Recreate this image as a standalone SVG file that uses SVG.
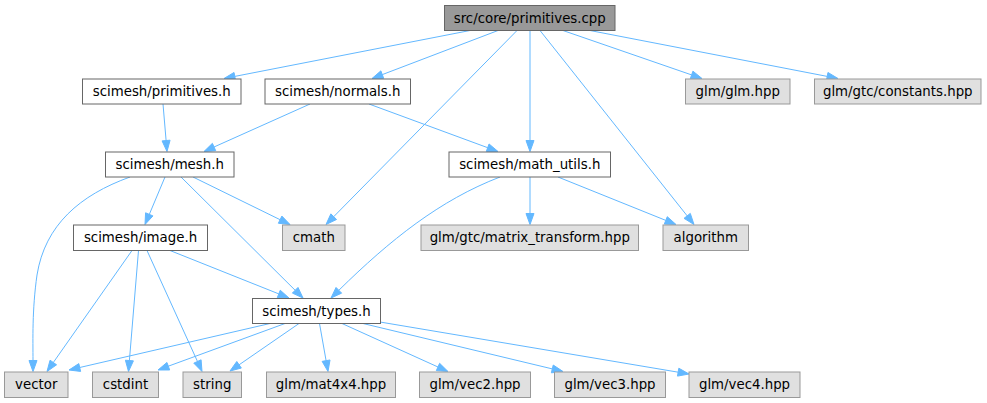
<svg xmlns="http://www.w3.org/2000/svg" width="987" height="403" viewBox="0 0 987 403">
<style>
text{font-family:"DejaVu Sans",sans-serif;font-size:13.33px;fill:#000;text-anchor:middle}
.root rect{fill:#999999;stroke:#666666;stroke-width:1}
.int rect{fill:#ffffff;stroke:#666666;stroke-width:1}
.ext rect{fill:#e0e0e0;stroke:#999999;stroke-width:1}
.e{fill:none;stroke:#63b8ff;stroke-width:1}
.ah{fill:#63b8ff;stroke:#63b8ff;stroke-width:1;stroke-linejoin:miter}
</style>
<rect width="987" height="403" fill="#ffffff"/>
<g id="edges">
<path class="e" d="M470,30.5 L234.8,76.4"/><path class="ah" d="M234.03,72.47 L224,78.5 L235.56,80.32 Z"/>
<path class="e" d="M498,30.5 L382.3,74.6"/><path class="ah" d="M380.86,70.85 L372,78.5 L383.70,78.32 Z"/>
<path class="e" d="M517,30.5 L333.7,216.7"/><path class="ah" d="M330.87,213.86 L326,224.5 L336.57,219.47 Z"/>
<path class="e" d="M530,30.5 L530,140.5"/><path class="ah" d="M526,140.5 L530,151.5 L534,140.5 Z"/>
<path class="e" d="M540,30.5 L687.2,215.9"/><path class="ah" d="M684.03,218.37 L694,224.5 L690.29,213.39 Z"/>
<path class="e" d="M563,30.5 L691.6,74.9"/><path class="ah" d="M690.30,78.69 L702,78.5 L692.91,71.13 Z"/>
<path class="e" d="M590,30.5 L827.2,76.4"/><path class="ah" d="M826.44,80.34 L838,78.5 L827.96,72.48 Z"/>
<path class="e" d="M163,104 L166.1,140.5"/><path class="ah" d="M162.09,140.88 L167,151.5 L170.07,140.20 Z"/>
<path class="e" d="M310,104 L214,147"/><path class="ah" d="M212.40,143.35 L204,151.5 L215.68,150.65 Z"/>
<path class="e" d="M369,104 L487.7,147.7"/><path class="ah" d="M486.30,151.45 L498,151.5 L489.06,143.95 Z"/>
<path class="e" d="M130,177 C80,195 45,225 37,275 C32,310 33,340 33,360.5"/><path class="ah" d="M29,360.5 L33,371.5 L37,360.5 Z"/>
<path class="e" d="M165,177 L149.3,214.4"/><path class="ah" d="M145.58,212.81 L145,224.5 L152.96,215.91 Z"/>
<path class="e" d="M181,177 L295.2,290.3"/><path class="ah" d="M292.37,293.09 L303,298 L298.01,287.41 Z"/>
<path class="e" d="M193,177 L280.1,219.7"/><path class="ah" d="M278.36,223.25 L290,224.5 L281.88,216.07 Z"/>
<path class="e" d="M500,177 C440,200 390,240 338.8,290.3"/><path class="ah" d="M336.04,287.44 L331,298 L341.64,293.14 Z"/>
<path class="e" d="M530,177 L530,213.5"/><path class="ah" d="M526,213.5 L530,224.5 L534,213.5 Z"/>
<path class="e" d="M558,177 L665.8,220.4"/><path class="ah" d="M664.31,224.10 L676,224.5 L667.29,216.68 Z"/>
<path class="e" d="M132,250.5 L53.3,362.5"/><path class="ah" d="M50.05,360.20 L47,371.5 L56.59,364.80 Z"/>
<path class="e" d="M138.5,250.5 L129.4,360.5"/><path class="ah" d="M125.42,360.21 L128.5,371.5 L133.40,360.87 Z"/>
<path class="e" d="M147,250.5 L197.5,361.5"/><path class="ah" d="M193.81,363.14 L202,371.5 L201.09,359.84 Z"/>
<path class="e" d="M170,250.5 L278.8,293.9"/><path class="ah" d="M277.30,297.64 L289,298 L280.26,290.21 Z"/>
<path class="e" d="M270,323.5 L79.7,367.5"/><path class="ah" d="M78.82,363.62 L69,370 L80.62,371.42 Z"/>
<path class="e" d="M285,323.5 L168.3,366.2"/><path class="ah" d="M166.95,362.46 L158,370 L169.70,369.97 Z"/>
<path class="e" d="M299,323.5 L239.1,364.8"/><path class="ah" d="M236.79,361.47 L230,371 L241.33,368.06 Z"/>
<path class="e" d="M319.5,323.5 L326.1,360.7"/><path class="ah" d="M322.14,361.36 L328,371.5 L330.02,359.97 Z"/>
<path class="e" d="M342,323.5 L438,367"/><path class="ah" d="M436.33,370.61 L448,371.5 L439.63,363.32 Z"/>
<path class="e" d="M363,323.5 L552.3,368.9"/><path class="ah" d="M551.37,372.82 L563,371.5 L553.24,365.04 Z"/>
<path class="e" d="M380,322 L678.2,372.2"/><path class="ah" d="M677.49,376.12 L689,374 L678.82,368.23 Z"/>
</g>
<g id="n_root" class="root"><rect x="444.5" y="5.5" width="170.5" height="25"/><text x="529.75" y="22.5">src/core/primitives.cpp</text></g>
<g id="n_primitives_h" class="int"><rect x="82.5" y="79" width="158.5" height="25"/><text x="161.75" y="96">scimesh/primitives.h</text></g>
<g id="n_normals_h" class="int"><rect x="265" y="79" width="145.5" height="25"/><text x="337.75" y="96">scimesh/normals.h</text></g>
<g id="n_glm_hpp" class="ext"><rect x="685.5" y="79" width="104.5" height="25"/><text x="737.75" y="96">glm/glm.hpp</text></g>
<g id="n_constants" class="ext"><rect x="814.5" y="79" width="166.5" height="25"/><text x="897.75" y="96">glm/gtc/constants.hpp</text></g>
<g id="n_mesh_h" class="int"><rect x="105.5" y="152" width="128.5" height="25"/><text x="169.75" y="169">scimesh/mesh.h</text></g>
<g id="n_math_utils" class="int"><rect x="449" y="152" width="161.5" height="25"/><text x="529.75" y="169">scimesh/math_utils.h</text></g>
<g id="n_image_h" class="int"><rect x="73.5" y="225" width="134" height="25.5"/><text x="140.5" y="242">scimesh/image.h</text></g>
<g id="n_cmath" class="ext"><rect x="282.5" y="225" width="62.5" height="25.5"/><text x="313.75" y="242">cmath</text></g>
<g id="n_matrix_transform" class="ext"><rect x="421" y="225" width="217.5" height="25.5"/><text x="529.75" y="242">glm/gtc/matrix_transform.hpp</text></g>
<g id="n_algorithm" class="ext"><rect x="663" y="225" width="85.5" height="25.5"/><text x="705.75" y="242">algorithm</text></g>
<g id="n_types_h" class="int"><rect x="252.5" y="298.5" width="128" height="25"/><text x="316.5" y="315.5">scimesh/types.h</text></g>
<g id="n_vector" class="ext"><rect x="4.5" y="372" width="63.5" height="25.5"/><text x="36.25" y="389">vector</text></g>
<g id="n_cstdint" class="ext"><rect x="92.5" y="372" width="66" height="25.5"/><text x="125.5" y="389">cstdint</text></g>
<g id="n_string" class="ext"><rect x="183" y="372" width="58.5" height="25.5"/><text x="212.25" y="389">string</text></g>
<g id="n_mat4x4" class="ext"><rect x="266.5" y="372" width="129" height="25.5"/><text x="331" y="389">glm/mat4x4.hpp</text></g>
<g id="n_vec2" class="ext"><rect x="419.5" y="372" width="111" height="25.5"/><text x="475" y="389">glm/vec2.hpp</text></g>
<g id="n_vec3" class="ext"><rect x="554.5" y="372" width="111" height="25.5"/><text x="610" y="389">glm/vec3.hpp</text></g>
<g id="n_vec4" class="ext"><rect x="689" y="372" width="111" height="25.5"/><text x="744.5" y="389">glm/vec4.hpp</text></g>
</svg>
